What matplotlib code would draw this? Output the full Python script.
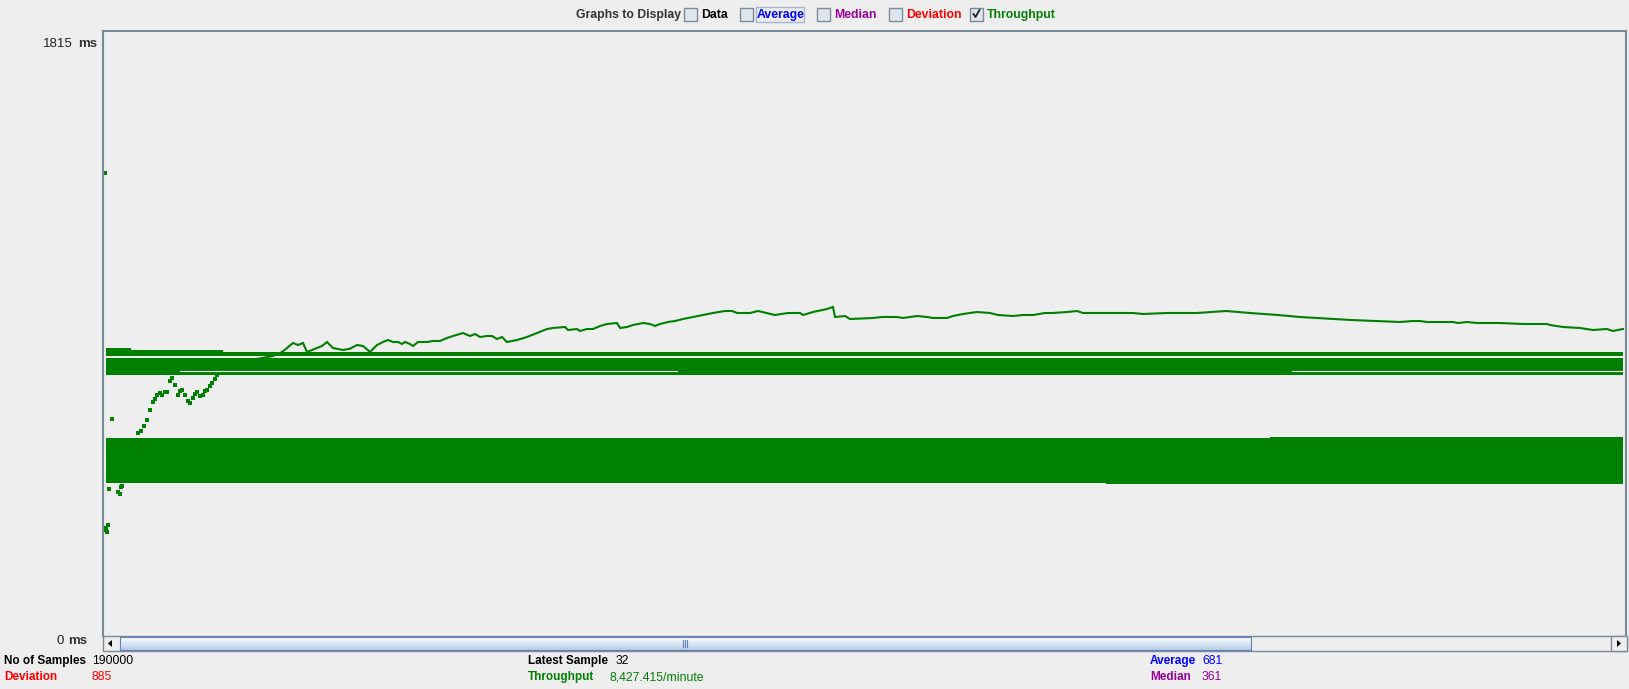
import numpy as np
import matplotlib
matplotlib.use("Agg")
import matplotlib.pyplot as plt
import matplotlib.patches as patches
from matplotlib.lines import Line2D
from matplotlib.colors import LinearSegmentedColormap

plt.rcParams['font.family'] = ['Liberation Sans', 'DejaVu Sans']

W, H = 1629, 689
BG = "#eeeeee"
GREEN = "#008000"
BORDER = "#7a8a99"

# ---- data (x = pixel column of the graph, value in ms) ----
y_max = 1815

# sparse throughput points at the start
early_x = [2, 2, 3, 4, 5, 6, 9, 15, 17, 18, 19, 35, 38, 41, 44, 47, 50, 52, 54, 57,
           59, 62, 64, 67, 69, 72, 75, 77, 79, 82, 85, 87, 90, 92, 94, 97, 100, 102,
           104, 107, 109, 112, 114, 117, 120]
early_v = [1389, 318, 325, 312, 333, 441, 651, 432, 425, 447, 450, 609, 615, 630, 648,
           678, 702, 712, 723, 728, 723, 732, 732, 765, 774, 753, 723, 735, 738, 723,
           705, 699, 714, 726, 732, 720, 723, 735, 738, 750, 759, 770, 783, 792, 798]

# throughput line
tp_x = [152, 170, 179, 184, 190, 195, 200, 204, 209, 214, 219, 224, 230, 240, 247, 254,
        260, 267, 274, 280, 285, 290, 295, 299, 302, 307, 310, 315, 324, 330, 337, 344,
        350, 360, 367, 372, 377, 384, 389, 394, 399, 404, 409, 414, 424, 434, 444, 450,
        462, 465, 474, 477, 484, 490, 497, 504, 514, 517, 524, 530, 540, 547, 552, 557,
        565, 572, 580, 590, 600, 610, 622, 629, 634, 647, 655, 672, 685, 697, 700, 710,
        724, 730, 732, 742, 747, 770, 779, 794, 800, 814, 824, 830, 844, 850, 860, 874,
        887, 895, 910, 920, 930, 942, 950, 964, 974, 980, 997, 1030, 1040, 1064, 1094,
        1123, 1147, 1175, 1197, 1248, 1297, 1310, 1317, 1324, 1350, 1355, 1364, 1374,
        1397, 1420, 1444, 1447, 1460, 1477, 1490, 1504, 1510, 1520]
tp_v = [830, 840, 852, 864, 879, 873, 879, 852, 858, 864, 870, 882, 864, 858, 862, 873,
        870, 852, 873, 882, 888, 882, 882, 876, 882, 876, 870, 882, 882, 885, 885, 894,
        900, 909, 900, 906, 897, 900, 900, 891, 897, 882, 885, 888, 897, 909, 921, 924,
        927, 918, 921, 915, 921, 921, 930, 936, 939, 924, 927, 933, 939, 936, 930, 936,
        942, 945, 951, 957, 963, 969, 975, 975, 969, 969, 975, 963, 969, 969, 963, 972,
        981, 987, 957, 960, 951, 954, 957, 957, 954, 960, 957, 954, 954, 960, 966, 972,
        969, 963, 960, 963, 963, 969, 969, 972, 975, 969, 969, 969, 966, 969, 969, 975,
        969, 963, 957, 948, 942, 945, 945, 942, 942, 939, 942, 939, 939, 936, 936, 933,
        927, 924, 918, 921, 915, 921]

# solid bands (step edges)
big_x = [3, 1003, 1167, 1520]
big_lo = [460, 456, 456, 456]
big_hi = [594, 594, 597, 597]

mid_x = [3, 1520]
mid_lo = [784, 784]
mid_hi = [833, 833]

top_x = [3, 28, 120, 1520]
top_lo = [840, 840, 840, 840]
top_hi = [864, 858, 852, 852]

# white gaps inside the middle band: (start, end, value)
gap_start = [77, 1189]
gap_end = [574, 1520]
gap_v = [795, 795]

# ---- figure ----
fig = plt.figure(figsize=(W / 100, H / 100), dpi=100, facecolor=BG)


def fx(px):
    return px / W


def fy(py):
    return 1 - py / H


ax = fig.add_axes([fx(103), fy(636), fx(1626) - fx(103), fy(31) - fy(636)])
ax.set_facecolor(BG)
ax.set_xlim(0, 1523)
ax.set_ylim(0, y_max)
ax.set_xticks([])
ax.set_yticks([])
for side in ["left", "top", "right"]:
    ax.spines[side].set_color(BORDER)
    ax.spines[side].set_linewidth(1.5)
ax.spines["bottom"].set_visible(False)

for xs, lo, hi in [(big_x, big_lo, big_hi), (mid_x, mid_lo, mid_hi), (top_x, top_lo, top_hi)]:
    ax.fill_between(xs, lo, hi, step="post", color=GREEN, lw=0)
for s, e, v in zip(gap_start, gap_end, gap_v):
    ax.plot([s, e], [v, v], color="white", lw=0.8)

ax.plot(tp_x, tp_v, color=GREEN, lw=1.5, solid_joinstyle="miter")
ax.scatter(early_x, early_v, s=5, marker="s", color=GREEN, lw=0)

# y labels
fig.text(fx(73), fy(44), "1815", ha="right", va="center", fontsize=9.5, color="#222222")
fig.text(fx(97), fy(44), "ms", ha="right", va="center", fontsize=9.5, fontweight="bold", color="#333333")
fig.text(fx(64), fy(641), "0", ha="right", va="center", fontsize=9.5, color="#222222")
fig.text(fx(87), fy(641), "ms", ha="right", va="center", fontsize=9.5, fontweight="bold", color="#333333")

# top row: graphs to display
fig.text(fx(576), fy(15), "Graphs to Display", ha="left", va="center", fontsize=8.8,
         fontweight="bold", color="#333333")
boxes = [(684, "Data", "black", False), (740, "Average", "#0000ff", False),
         (817, "Median", "#990099", False), (889, "Deviation", "#ff0000", False),
         (970, "Throughput", GREEN, True)]
for bx, label, col, checked in boxes:
    fig.patches.append(patches.Rectangle((fx(bx), fy(21)), 13 / W, 13 / H, transform=fig.transFigure,
                                         fc="#dfe5ec", ec=BORDER, lw=1))
    fig.text(fx(bx + 17), fy(15), label, ha="left", va="center", fontsize=8.8,
             fontweight="bold", color=col)
    if checked:
        fig.lines.append(Line2D([fx(bx + 3.5), fx(bx + 5.5), fx(bx + 9.5)],
                                [fy(14), fy(17), fy(10)], transform=fig.transFigure,
                                color="#222222", lw=1.3))
fig.patches.append(patches.Rectangle((fx(756), fy(22)), 48 / W, 15 / H, transform=fig.transFigure,
                                     fc="none", ec="#a3b8cc", lw=1))

# scrollbar
fig.patches.append(patches.Rectangle((fx(103), fy(651)), (1627 - 103) / W, 15 / H,
                                     transform=fig.transFigure, fc=BG, ec=BORDER, lw=1))
sax = fig.add_axes([fx(120), fy(650), fx(1251) - fx(120), fy(637) - fy(650)])
sax.set_zorder(5)
grad = np.linspace(0, 1, 30).reshape(-1, 1)
cmap = LinearSegmentedColormap.from_list("thumb", ["#ffffff", "#dae5f2", "#b9cde6"])
sax.imshow(grad, aspect="auto", cmap=cmap, extent=[0, 1, 0, 1], origin="upper")
sax.set_xticks([])
sax.set_yticks([])
for sp in sax.spines.values():
    sp.set_color("#6382bf")
for gx in [683, 685, 687]:
    sax.add_line(Line2D([fx(gx), fx(gx)], [fy(640), fy(647)], transform=fig.transFigure,
                        color="#6382bf", lw=0.8))
fig.patches.append(patches.Rectangle((fx(1611), fy(651)), 16 / W, 15 / H, transform=fig.transFigure,
                                     fc=BG, ec=BORDER, lw=1))
fig.patches.append(patches.Polygon([(fx(108), fy(643.5)), (fx(112), fy(640)), (fx(112), fy(647))],
                                   closed=True, transform=fig.transFigure, fc="black", ec="none"))
fig.patches.append(patches.Polygon([(fx(1621), fy(643.5)), (fx(1617), fy(640)), (fx(1617), fy(647))],
                                   closed=True, transform=fig.transFigure, fc="black", ec="none"))

# statistics
stats = [(4, 661, "No of Samples", 92, "190000", "black"),
         (4, 677, "Deviation", 92, "885", "#ff0000"),
         (528, 661, "Latest Sample", 616, "32", "black"),
         (528, 677, "Throughput", 609, "8,427.415/minute", GREEN),
         (1150, 661, "Average", 1202, "681", "#0000ff"),
         (1150, 677, "Median", 1202, "361", "#990099")]
for lx, ly, label, vx, value, col in stats:
    fig.text(fx(lx), fy(ly), label, ha="left", va="center", fontsize=8.5, fontweight="bold", color=col)
    fig.text(fx(vx), fy(ly), value, ha="left", va="center", fontsize=8.8, color=col)

fig.savefig("out.png", dpi=100, facecolor=BG)
